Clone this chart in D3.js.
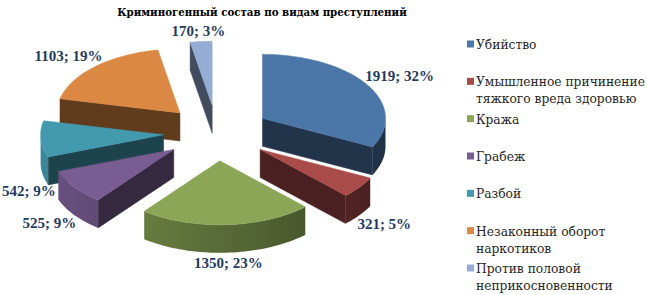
<!DOCTYPE html>
<html>
<head>
<meta charset="utf-8">
<script src="https://cdn.jsdelivr.net/npm/d3@7"></script>
<style>
  body { margin: 0; background: #fff; }
  svg { display: block; }
</style>
</head>
<body>
<svg id="chart"></svg>
<script>
// data
var title = 'Криминогенный состав по видам преступлений';
var categories = ['Убийство', 'Умышленное причинение тяжкого вреда здоровью', 'Кража', 'Грабеж', 'Разбой', 'Незаконный оборот наркотиков', 'Против половой неприкосновенности'];
var values = [1919, 321, 1350, 525, 542, 1103, 170];
var palette = ['#4a76a8', '#a94c49', '#8aa656', '#785c92', '#4399ae', '#da8843', '#95add5'];

var w = 647, h = 295;
var cx = 217, cy = 133;        // pie centre
var rx = 123, ry = 64;          // ellipse radii of the tilted pie
var depth = 28;                 // thickness
var explode = 0.435;            // share of the radius
var serifLatin = '"Liberation Serif", serif';
var serifCyr = '"DejaVu Serif Condensed", "DejaVu Serif", serif';   // Liberation Serif has no cyrillic here

var svg = d3.select('#chart').attr('width', w).attr('height', h);
var defs = svg.append('defs');

var total = d3.sum(values);
var color = d3.scaleOrdinal().domain(categories).range(palette);

var arcs = d3.pie().sort(null).value(function(d){ return d; })(values);

// projection of a point on the pie plane (angle clockwise from 12 o'clock)
function proj(a, r, s, z) {
	return [cx + s.ox + rx * r * Math.sin(a), cy + s.oy - ry * r * Math.cos(a) + (z || 0)];
}
function arcPts(a0, a1, s, z) {
	var n = Math.max(2, Math.ceil(Math.abs(a1 - a0) / 0.03));
	var pts = [];
	for (var i = 0; i <= n; i++) pts.push(proj(a0 + (a1 - a0) * i / n, 1, s, z));
	return pts;
}
var line = d3.line();

var slices = arcs.map(function(d, i){
	var mid = (d.startAngle + d.endAngle) / 2;
	return {
		i: i, name: categories[i], value: d.value,
		s: d.startAngle, e: d.endAngle, mid: mid,
		ox: explode * rx * Math.sin(mid),
		oy: -explode * ry * Math.cos(mid)
	};
});

// back to front
var order = slices.slice().sort(function(a, b){ return a.oy - b.oy; });

var pieG = svg.append('g');
var polys = [];

order.forEach(function(s){
	var base = d3.color(color(s.name));
	var g = pieG.append('g');
	var gid = 'wall' + s.i;
	var grad = defs.append('linearGradient').attr('id', gid)
		.attr('gradientUnits', 'userSpaceOnUse')
		.attr('x1', cx - rx * 1.5).attr('x2', cx + rx * 1.5).attr('y1', 0).attr('y2', 0);
	grad.append('stop').attr('offset', 0).attr('stop-color', base.darker(0.3));
	grad.append('stop').attr('offset', 1).attr('stop-color', base.darker(2.6));

	var apex = proj(0, 0, s);
	var radial = base.darker(2.3);

	// radial walls facing the viewer
	[[s.s, s.s - Math.PI / 2], [s.e, s.e + Math.PI / 2]].forEach(function(p){
		if (Math.cos(p[1]) < -1e-6) {
			var rim = proj(p[0], 1, s);
			var pts = [apex, rim, [rim[0], rim[1] + depth], [apex[0], apex[1] + depth]];
			polys.push(pts);
			g.append('path').attr('d', line(pts) + 'Z').attr('fill', radial)
				.attr('stroke', radial).attr('stroke-width', 0.5);
		}
	});

	// outer wall, front half only
	var a0 = Math.max(s.s, Math.PI / 2), a1 = Math.min(s.e, 3 * Math.PI / 2);
	if (a1 > a0) {
		var wall = arcPts(a0, a1, s, 0).concat(arcPts(a1, a0, s, depth));
		polys.push(wall);
		g.append('path').attr('d', line(wall) + 'Z')
			.attr('fill', 'url(#' + gid + ')');
	}

	// top face
	var face = [apex].concat(arcPts(s.s, s.e, s, 0));
	polys.push(face);
	g.append('path').attr('d', line(face) + 'Z').attr('fill', base)
		.attr('stroke', base).attr('stroke-width', 0.5);
});

function hitsPie(x, y, bw, bh) {
	for (var i = 0; i <= 6; i++) for (var j = 0; j <= 2; j++) {
		var p = [x - bw / 2 + bw * i / 6, y - bh / 2 + bh * j / 2];
		for (var k = 0; k < polys.length; k++) if (d3.polygonContains(polys[k], p)) return true;
	}
	return false;
}

// data labels
var labG = svg.append('g')
	.attr('font-family', serifLatin)
	.attr('font-weight', 'bold').attr('font-size', '15px').attr('fill', '#1f3a60');

slices.forEach(function(s){
	var front = Math.cos(s.mid) < 0;
	var anchor = proj(s.mid, 1, s, front ? depth : 0);
	var pct = Math.round(s.value / total * 100);
	var t = labG.append('text').text(s.value + '; ' + pct + '%')
		.attr('text-anchor', 'middle').attr('dominant-baseline', 'central');
	var bw = t.node().getComputedTextLength(), bh = 13;
	var x = anchor[0] + Math.sin(s.mid) * (bw / 2 + 4);
	var y = anchor[1] - Math.cos(s.mid) * (bh / 2 + 4);
	x = Math.max(2 + bw / 2, Math.min(w - 2 - bw / 2, x));
	var step = front ? 1 : -1, n = 0;
	while (hitsPie(x, y, bw, bh) && n < 50) { y += step; n++; }
	t.attr('x', x).attr('y', y);
});

// title, fitted to the width it has in the original
var tt = svg.append('text').text(title)
	.attr('x', 262).attr('y', 12).attr('text-anchor', 'middle').attr('dominant-baseline', 'central')
	.attr('font-family', serifCyr)
	.attr('font-weight', 'bold').attr('font-size', '14px').attr('fill', '#000');
tt.attr('font-size', Math.min(14, 14 * 290 / tt.node().getComputedTextLength()) + 'px');

// legend
var legY = d3.scalePoint().domain(categories).range([44, 268]);
var legX = 467, txtX = 476, maxW = 175;
var legG = svg.append('g')
	.attr('font-family', serifCyr)
	.attr('font-size', '14px').attr('fill', '#262626');

// size the legend font so the longest wrapped line spans as in the original
var probe = legG.append('text').text('Умышленное причинение');
var legSize = Math.min(14, 14 * 169 / probe.node().getComputedTextLength());
probe.remove();
legG.attr('font-size', legSize + 'px');

categories.forEach(function(c){
	var y = legY(c);
	legG.append('rect').attr('x', legX).attr('y', y - 3.5).attr('width', 7).attr('height', 7)
		.attr('fill', color(c));
	var t = legG.append('text').attr('x', txtX).attr('y', y).attr('dominant-baseline', 'central');
	var words = c.split(' '), lineWords = [];
	var ts = t.append('tspan').attr('x', txtX).attr('dy', 0);
	words.forEach(function(wd){
		lineWords.push(wd);
		ts.text(lineWords.join(' '));
		if (ts.node().getComputedTextLength() > maxW && lineWords.length > 1) {
			lineWords.pop();
			ts.text(lineWords.join(' '));
			lineWords = [wd];
			ts = t.append('tspan').attr('x', txtX).attr('dy', 17).text(wd);
		}
	});
});
</script>
</body>
</html>
